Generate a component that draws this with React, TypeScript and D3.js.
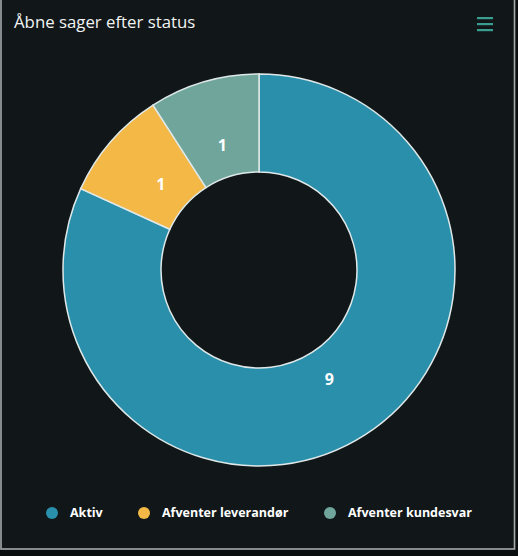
import React from "react";
import * as d3 from "d3";

const categories = ["Aktiv", "Afventer leverandør", "Afventer kundesvar"];
const values = [9, 1, 1];
const colors = ["#2a8fab", "#f3b846", "#6fa59b"];
const title = "Åbne sager efter status";

const W = 518;
const H = 556;

export default function App() {
  const cx = 259;
  const cy = 270;
  const outerR = 196;
  const innerR = 98;
  const labelR = 130;

  const pie = d3.pie<number>().sort(null).value((d) => d)(values);
  const arc = d3.arc<d3.PieArcDatum<number>>().innerRadius(innerR).outerRadius(outerR);
  const labelArc = d3.arc<d3.PieArcDatum<number>>().innerRadius(labelR).outerRadius(labelR);

  const legendX = [52, 144, 330];
  const legendY = 513;

  return (
    <svg
      width={W}
      height={H}
      style={{ position: "absolute", left: 0, top: 0, background: "#0b0e0f" }}
    >
      <rect x={0} y={-4} width={516} height={554} fill="#111719" />
      <rect x={1} y={-4} width={513.5} height={553} fill="none" stroke="#a4a9aa" strokeWidth={1.6} />
      <text
        x={14}
        y={28}
        fill="#f2f4f4"
        fontFamily="'Open Sans', sans-serif"
        fontSize={16.8}
      >
        {title}
      </text>
      <g fill="#3a9d8f">
        <rect x={477} y={17} width={16} height={2.2} />
        <rect x={477} y={23} width={16} height={2.2} />
        <rect x={477} y={29} width={16} height={2.2} />
      </g>
      <g transform={`translate(${cx},${cy})`}>
        {pie.map((d, i) => (
          <path key={i} d={arc(d) || ""} fill={colors[i]} stroke="#dfe8e8" strokeWidth={1.5} />
        ))}
        {pie.map((d, i) => {
          const [x, y] = labelArc.centroid(d);
          return (
            <text
              key={"l" + i}
              x={x}
              y={y}
              dy="0.35em"
              textAnchor="middle"
              fill="#ffffff"
              fontFamily="'Open Sans', sans-serif"
              fontWeight="bold"
              fontSize={16}
            >
              {d.data}
            </text>
          );
        })}
      </g>
      {categories.map((c, i) => (
        <g key={"lg" + i}>
          <circle cx={legendX[i]} cy={legendY} r={6} fill={colors[i]} />
          <text
            x={legendX[i] + 18}
            y={legendY}
            dy="0.35em"
            fill="#ffffff"
            fontFamily="'Open Sans', sans-serif"
            fontWeight="bold"
            fontSize={12.5}
          >
            {c}
          </text>
        </g>
      ))}
    </svg>
  );
}
